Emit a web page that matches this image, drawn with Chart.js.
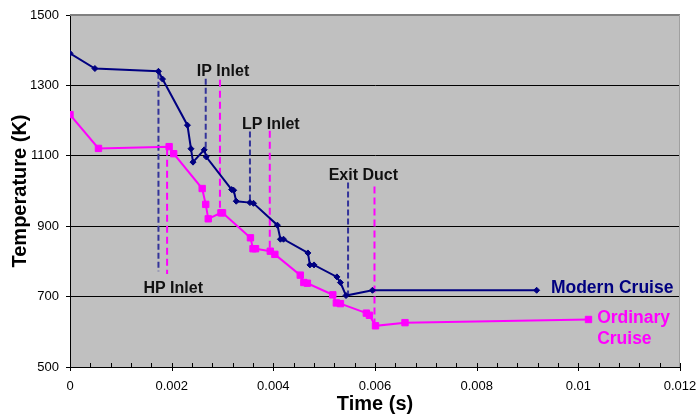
<!DOCTYPE html>
<html>
<head>
<meta charset="utf-8">
<script src="https://cdn.jsdelivr.net/npm/chart.js@4/dist/chart.umd.min.js"></script>
<style>
  body { margin: 0; background: #fff; }
  #wrap { width: 698px; height: 419px; }
</style>
</head>
<body>
<div id="wrap"><canvas id="tempChart" width="698" height="419"></canvas></div>
<script>
// Modern cruise (navy diamonds)
const modernTime = [0, 0.00049, 0.00174, 0.00182, 0.00231, 0.00238, 0.00242, 0.00264, 0.00268,
  0.00318, 0.00322, 0.00327, 0.00354, 0.00361, 0.00408, 0.00414, 0.0042, 0.00468, 0.00472,
  0.0048, 0.00525, 0.00532, 0.00543, 0.00595, 0.00918];
const modernTemp = [1391, 1348, 1340, 1318, 1187, 1120, 1082, 1117, 1097,
  1004, 1002, 971, 967, 965, 903, 863, 863, 824, 790,
  790, 756, 740, 703, 718, 718];

// Ordinary cruise (magenta squares)
const ordinaryTime = [0, 0.00056, 0.00195, 0.00204, 0.0026, 0.00267, 0.00272, 0.00297, 0.003,
  0.00355, 0.0036, 0.00365, 0.00394, 0.00403, 0.00453, 0.0046, 0.00467, 0.00517, 0.00524,
  0.00532, 0.00583, 0.00589, 0.00601, 0.00659, 0.0102];
const ordinaryTemp = [1217, 1121, 1126, 1106, 1007, 962, 921, 938, 938,
  867, 836, 836, 829, 820, 761, 740, 738, 705, 682,
  680, 653, 647, 617, 626, 635];

// station markers (dashed verticals): HP, IP, LP, Exit
const modernGuideTime = [0.00174, 0.00267, 0.00354, 0.00547];
const modernGuideTop = [1336, 1319, 1169, 1024];
const modernGuideBottom = [772, 1120, 967, 704];
const ordinaryGuideTime = [0.00191, 0.00295, 0.00393, 0.00599];
const ordinaryGuideTop = [1120, 1316, 1171, 1013];
const ordinaryGuideBottom = [764, 939, 834, 619];

const xTickLabels = ["0", "0.002", "0.004", "0.006", "0.008", "0.01", "0.012"];
const yTicks = [500, 700, 900, 1100, 1300, 1500];

const NAVY = "#000080";
const MAGENTA = "#FF00FF";

function toPoints(xs, ys) {
  return xs.map((x, i) => ({ x: x, y: ys[i] }));
}

function guideSets(times, tops, bottoms, color, dash) {
  return times.map((t, i) => ({
    data: [{ x: t, y: tops[i] }, { x: t, y: bottoms[i] }],
    borderColor: color,
    borderWidth: 2,
    borderDash: dash,
    pointRadius: 0,
    fill: false,
  }));
}

// text placed in data coordinates
const notes = [
  { text: "HP Inlet", x: 0.00203, y: 723, color: "#111", font: "bold 16px 'Liberation Sans', Arial", align: "center" },
  { text: "IP Inlet", x: 0.00301, y: 1339, color: "#111", font: "bold 16px 'Liberation Sans', Arial", align: "center" },
  { text: "LP Inlet", x: 0.00395, y: 1190, color: "#111", font: "bold 16px 'Liberation Sans', Arial", align: "center" },
  { text: "Exit Duct", x: 0.00577, y: 1044, color: "#111", font: "bold 16px 'Liberation Sans', Arial", align: "center" },
  { text: "Modern Cruise", x: 0.00946, y: 725, color: NAVY, font: "bold 17.5px 'Liberation Sans', Arial", align: "left" },
  { text: "Ordinary", x: 0.01037, y: 640, color: MAGENTA, font: "bold 17.5px 'Liberation Sans', Arial", align: "left" },
  { text: "Cruise", x: 0.01037, y: 578, color: MAGENTA, font: "bold 17.5px 'Liberation Sans', Arial", align: "left" },
];

const plotDecor = {
  id: "plotDecor",
  beforeDraw(chart) {
    const a = chart.chartArea;
    const ctx = chart.ctx;
    ctx.save();
    ctx.fillStyle = "#C0C0C0";
    ctx.fillRect(a.left, a.top, a.right - a.left, a.bottom - a.top);
    ctx.restore();
  },
  afterDraw(chart) {
    const a = chart.chartArea;
    const ctx = chart.ctx;
    const xs = chart.scales.x;
    ctx.save();
    // top and right frame
    ctx.strokeStyle = "#808080";
    ctx.lineWidth = 2;
    ctx.beginPath();
    ctx.moveTo(a.left, a.top);
    ctx.lineTo(a.right, a.top);
    ctx.stroke();
    ctx.strokeStyle = "#A0A0A0";
    ctx.lineWidth = 1;
    ctx.beginPath();
    ctx.moveTo(a.right - 0.5, a.top);
    ctx.lineTo(a.right - 0.5, a.bottom);
    ctx.stroke();
    // x tick marks: minor inside, major crossing
    ctx.strokeStyle = "#000";
    ctx.lineWidth = 1;
    xs.ticks.forEach((tk) => {
      const px = Math.round(xs.getPixelForValue(tk.value)) + 0.5;
      const k = tk.value / 0.002;
      const major = Math.abs(k - Math.round(k)) < 1e-6;
      ctx.beginPath();
      ctx.moveTo(px, a.bottom - 4);
      ctx.lineTo(px, a.bottom + (major ? 4 : 0));
      ctx.stroke();
    });
    // notes
    notes.forEach((n) => {
      ctx.font = n.font;
      ctx.fillStyle = n.color;
      ctx.textAlign = n.align;
      ctx.textBaseline = "middle";
      ctx.fillText(n.text, xs.getPixelForValue(n.x), chart.scales.y.getPixelForValue(n.y));
    });
    ctx.restore();
  },
};

const ctx = document.getElementById("tempChart").getContext("2d");

new Chart(ctx, {
  type: "line",
  data: {
    datasets: [
      {
        label: "Modern Cruise",
        data: toPoints(modernTime, modernTemp),
        borderColor: NAVY,
        backgroundColor: NAVY,
        borderWidth: 2,
        pointStyle: "rectRot",
        pointRadius: 3,
        pointBorderWidth: 1,
        tension: 0,
        fill: false,
      },
      {
        label: "Ordinary Cruise",
        data: toPoints(ordinaryTime, ordinaryTemp),
        borderColor: MAGENTA,
        backgroundColor: MAGENTA,
        borderWidth: 2,
        pointStyle: "rect",
        pointRadius: 4.5,
        pointBorderWidth: 1,
        tension: 0,
        fill: false,
      },
      ...guideSets(modernGuideTime, modernGuideTop, modernGuideBottom, "#333399", [6, 3]),
      ...guideSets(ordinaryGuideTime, ordinaryGuideTop, ordinaryGuideBottom, MAGENTA, [7, 4]),
    ],
  },
  options: {
    responsive: false,
    animation: false,
    layout: { padding: { top: 15, right: 18, left: 0, bottom: 0 } },
    plugins: {
      legend: { display: false },
      tooltip: { enabled: false },
    },
    scales: {
      x: {
        type: "linear",
        min: 0,
        max: 0.012,
        afterFit: (scale) => {
          scale.height = 52;
          scale.paddingLeft = 0;
          scale.paddingRight = 0;
        },
        ticks: {
          stepSize: 0.0004,
          autoSkip: false,
          maxRotation: 0,
          padding: 12,
          color: "#000",
          font: { family: "'Liberation Sans', Arial", size: 13 },
          callback: (v) => {
            const k = v / 0.002;
            return Math.abs(k - Math.round(k)) < 1e-6 ? xTickLabels[Math.round(k)] : "";
          },
        },
        grid: { drawOnChartArea: false, drawTicks: false },
        border: { color: "#000", width: 1 },
        title: {
          display: true,
          text: "Time (s)",
          color: "#000",
          font: { family: "'Liberation Sans', Arial", size: 20, weight: "bold" },
          padding: { top: 0, bottom: 3 },
        },
      },
      y: {
        min: 500,
        max: 1500,
        afterFit: (scale) => {
          scale.width = 70;
          scale.paddingTop = 0;
          scale.paddingBottom = 0;
        },
        afterBuildTicks: (scale) => { scale.ticks = yTicks.map((v) => ({ value: v })); },
        ticks: {
          padding: 7,
          color: "#000",
          font: { family: "'Liberation Sans', Arial", size: 13 },
          callback: (v) => String(v),
        },
        grid: {
          color: (c) => (c.tick && c.tick.value === 1500 ? "rgba(0,0,0,0)" : "#000"),
          tickColor: "#000",
          tickLength: 4,
          lineWidth: 1,
        },
        border: { color: "#000", width: 1 },
        title: {
          display: true,
          text: "Temperature (K)",
          color: "#000",
          font: { family: "'Liberation Sans', Arial", size: 20, weight: "bold" },
          padding: { top: 8, bottom: 0 },
        },
      },
    },
  },
  plugins: [plotDecor],
});
</script>
</body>
</html>
